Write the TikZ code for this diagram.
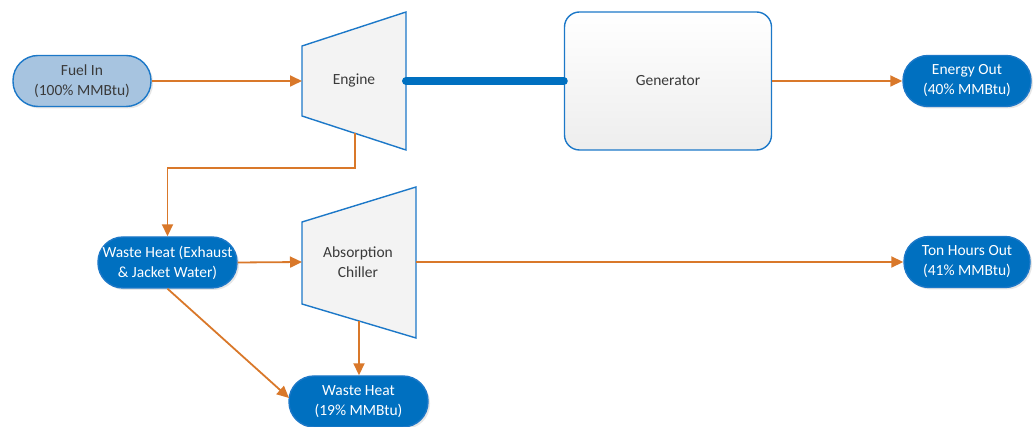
\documentclass[tikz,border=0pt]{standalone}
\usepackage{fontspec}
\setmainfont{Carlito}
\usetikzlibrary{arrows.meta,shadows}
\definecolor{flowblue}{HTML}{0070C0}
\definecolor{edgeblue}{HTML}{1C78C8}
\definecolor{fuelfill}{HTML}{A7C4E0}
\definecolor{heatline}{HTML}{D9782A}
\definecolor{darktext}{HTML}{3A3A3A}
\definecolor{machfill}{HTML}{F3F3F3}
\tikzset{
  bodyfont/.style={font=\fontsize{15.5}{20}\selectfont},
  pill/.style={draw=edgeblue, line width=1.4pt, rounded corners=25pt,
    minimum height=51pt, align=center, bodyfont,
    drop shadow={opacity=0.2, shadow xshift=2pt, shadow yshift=-2pt}},
  sourcepill/.style={pill, fill=fuelfill, text=darktext},
  sinkpill/.style={pill, fill=flowblue, text=white},
  machine/.style={draw=edgeblue, line width=1.4pt, fill=machfill, line join=miter},
  label/.style={align=center, text=darktext, bodyfont},
  flow/.style={draw=heatline, line width=1.8pt,
    -{Triangle[length=12pt,width=11pt]}},
  shaft/.style={draw=flowblue, line width=8pt, line cap=round}
}
\begin{document}
\begin{tikzpicture}[x=1pt,y=-1pt]
\useasboundingbox (0,0) rectangle (1034,427);

% engine (trapezoid) and its anchor points
\draw[machine] (302,46) -- (406,12) -- (406,150) -- (302,116) -- cycle;
\node[label] (engine) at (354,81) {Engine};
\coordinate (engIn) at (302,81);
\coordinate (engOut) at (406,81);
\coordinate (engHeat) at (355,133);
\coordinate (engBend) at (355,168);

% absorption chiller (trapezoid)
\draw[machine] (302,222) -- (416,187) -- (416,338) -- (302,304) -- cycle;
\node[label] (chiller) at (358,262) {Absorption\\Chiller};
\coordinate (chIn) at (302,262);
\coordinate (chOut) at (416,262);
\coordinate (chHeat) at (359,321);

% generator
\node[draw=edgeblue, line width=1.4pt, rounded corners=15pt,
      top color=white, bottom color=machfill!85!gray!60,
      minimum width=207pt, minimum height=138pt,
      text=darktext, bodyfont] (gen) at (668,81) {Generator};

% inputs and outputs
\node[sourcepill, minimum width=138pt] (fuel) at (82,81) {Fuel In\\(100\% MMBtu)};
\node[sinkpill, minimum width=128pt] (energy) at (967,81) {Energy Out\\(40\% MMBtu)};
\node[sinkpill, minimum width=139pt] (whx) at (167.5,262.5) {Waste Heat (Exhaust\\\& Jacket Water)};
\node[sinkpill, minimum width=126pt] (tons) at (967,262) {Ton Hours Out\\(41\% MMBtu)};
\node[sinkpill, minimum width=139pt] (waste) at (358.5,401.5) {Waste Heat\\(19\% MMBtu)};

% shaft between engine and generator
\draw[shaft] (engOut) -- (gen.west);

% energy flows
\draw[flow] (fuel.east) -- (engIn);
\draw[flow] (gen.east) -- (energy.west);
\draw[flow] (engHeat) -- (engBend) -| (whx.north);
\draw[flow] (whx.east) -- (chIn);
\draw[flow] (chOut) -- (tons.west |- chOut);
\draw[flow] (chHeat) -- (waste.north -| chHeat);
\draw[flow] (whx.south) -- (289,398);
\end{tikzpicture}
\end{document}
